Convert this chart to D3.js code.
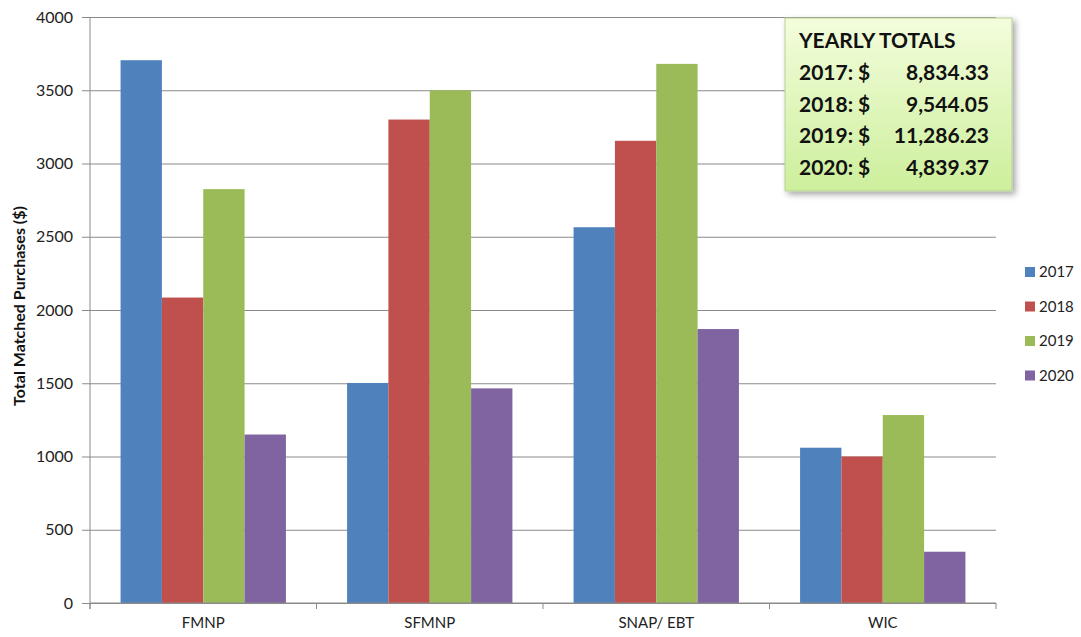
<!DOCTYPE html>
<html>
<head>
<meta charset="utf-8">
<script src="https://cdn.jsdelivr.net/npm/d3@7"></script>
<style>
  body { margin: 0; background: #fff; }
  svg { display: block; font-family: Lato, "Open Sans", "Liberation Sans", sans-serif; }
</style>
</head>
<body>
<div id="chart"></div>
<script>
// data
var programs = ["FMNP", "SFMNP", "SNAP/ EBT", "WIC"];
var years = ["2017", "2018", "2019", "2020"];
var v2017 = [3705, 1502, 2565, 1060];
var v2018 = [2085, 3300, 3155, 1000];
var v2019 = [2825, 3500, 3680, 1283];
var v2020 = [1150, 1465, 1870, 350];
var yTicks = [0, 500, 1000, 1500, 2000, 2500, 3000, 3500, 4000];
var totalsTitle = "YEARLY TOTALS";
var totals = ["8,834.33", "9,544.05", "11,286.23", "4,839.37"];

var series = [v2017, v2018, v2019, v2020];
var colors = ["#4f81bd", "#c0504d", "#9bbb59", "#8064a2"];

var w = 1081, h = 637;
// plot area edges
var pL = 90, pR = 996, pT = 17, pB = 603;

var svg = d3.select("#chart").append("svg")
  .attr("width", w)
  .attr("height", h);

var y = d3.scaleLinear().domain([0, 4000]).range([pB, pT]);

var x0 = d3.scaleBand()
  .domain(programs)
  .range([pL, pR])
  .paddingInner(0.27)
  .paddingOuter(0.135);

var x1 = d3.scaleBand()
  .domain(years)
  .range([0, x0.bandwidth()]);

// gridlines + y axis
var yAxis = svg.append("g")
  .attr("transform", "translate(" + pL + ",0)")
  .call(d3.axisLeft(y).tickValues(yTicks).tickFormat(d3.format("d"))
    .tickSize(-(pR - pL)).tickSizeOuter(0).tickPadding(17));
yAxis.attr("font-family", null);
yAxis.select(".domain").remove();
yAxis.selectAll("line")
  .attr("x1", -8)
  .attr("stroke", "#8a8a8a");
yAxis.selectAll("text")
  .attr("font-size", "16px")
  .attr("fill", "#222");

// bars
var groups = svg.selectAll(".grp")
  .data(programs)
  .enter().append("g")
  .attr("class", "grp")
  .attr("transform", function(d) { return "translate(" + x0(d) + ",0)"; });

groups.selectAll("rect")
  .data(function(d, i) {
    return years.map(function(yr, j) { return { year: yr, value: series[j][i], k: j }; });
  })
  .enter().append("rect")
  .attr("x", function(d) { return x1(d.year); })
  .attr("y", function(d) { return y(d.value); })
  .attr("width", x1.bandwidth())
  .attr("height", function(d) { return pB - y(d.value); })
  .attr("fill", function(d) { return colors[d.k]; });

// vertical axis line
svg.append("line")
  .attr("x1", pL).attr("x2", pL)
  .attr("y1", pT).attr("y2", pB + 6)
  .attr("stroke", "#8a8a8a");

// x axis
var xAxis = svg.append("g")
  .attr("transform", "translate(0," + pB + ")")
  .call(d3.axisBottom(x0).tickSize(0).tickPadding(14));
xAxis.attr("font-family", null);
xAxis.select(".domain").attr("stroke", "#8a8a8a").attr("d", "M" + pL + ",0H" + pR);
xAxis.selectAll("text").attr("font-size", "15px").attr("fill", "#222");

// category separators
var seps = d3.range(programs.length + 1).map(function(i) { return pL + i * x0.step(); });
svg.selectAll(".sep")
  .data(seps)
  .enter().append("line")
  .attr("x1", function(d) { return d; })
  .attr("x2", function(d) { return d; })
  .attr("y1", pB)
  .attr("y2", pB + 6)
  .attr("stroke", "#8a8a8a");

// y axis title
svg.append("text")
  .attr("transform", "translate(25,306) rotate(-90)")
  .attr("text-anchor", "middle")
  .attr("font-size", "16px")
  .attr("font-weight", "bold")
  .attr("fill", "#111")
  .text("Total Matched Purchases ($)");

// legend
var legend = svg.selectAll(".leg")
  .data(years)
  .enter().append("g")
  .attr("class", "leg")
  .attr("transform", function(d, i) { return "translate(1025," + (267 + i * 34.5) + ")"; });
legend.append("rect")
  .attr("width", 10).attr("height", 10)
  .attr("fill", function(d, i) { return colors[i]; });
legend.append("text")
  .attr("x", 14).attr("y", 10)
  .attr("font-size", "15px")
  .attr("fill", "#222")
  .text(function(d) { return d; });

// totals box
var defs = svg.append("defs");
var grad = defs.append("linearGradient")
  .attr("id", "boxfill")
  .attr("x1", 0).attr("y1", 0).attr("x2", 0).attr("y2", 1);
grad.append("stop").attr("offset", "0%").attr("stop-color", "#f3fddc");
grad.append("stop").attr("offset", "100%").attr("stop-color", "#cdef9c");
var shadow = defs.append("filter").attr("id", "shadow")
  .attr("x", "-10%").attr("y", "-10%").attr("width", "130%").attr("height", "130%");
shadow.append("feDropShadow")
  .attr("dx", 3).attr("dy", 3).attr("stdDeviation", 3)
  .attr("flood-color", "#000").attr("flood-opacity", 0.35);

svg.append("rect")
  .attr("x", 785).attr("y", 18)
  .attr("width", 227).attr("height", 173)
  .attr("fill", "url(#boxfill)")
  .attr("stroke", "#b9cf9a")
  .attr("filter", "url(#shadow)");

var box = svg.append("g")
  .attr("font-size", "21px")
  .attr("font-weight", "bold")
  .attr("fill", "#111");
box.append("text").attr("x", 799).attr("y", 48).text(totalsTitle);
var rows = box.selectAll(".row")
  .data(years)
  .enter().append("g")
  .attr("transform", function(d, i) { return "translate(0," + (80 + i * 31.5) + ")"; });
rows.append("text").attr("x", 799).text(function(d) { return d + ":"; });
rows.append("text").attr("x", 858).text("$");
rows.append("text").attr("x", 989).attr("text-anchor", "end")
  .text(function(d, i) { return totals[i]; });
</script>
</body>
</html>
